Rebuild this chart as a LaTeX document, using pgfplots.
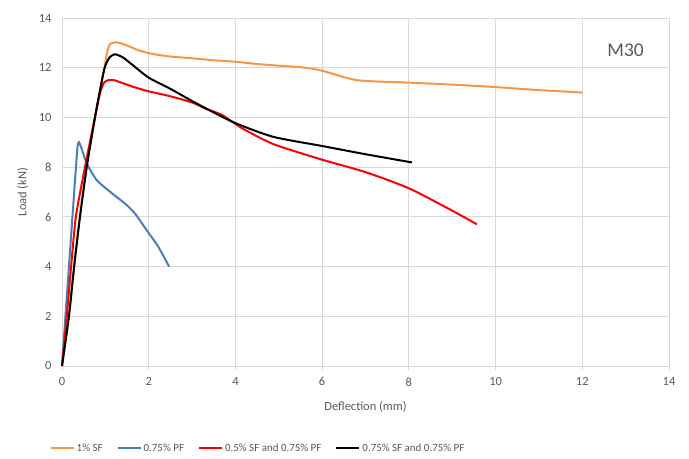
\documentclass[border=0pt]{standalone}
\usepackage{fontspec}
\setmainfont{Carlito}
\usepackage{pgfplots}
\pgfplotsset{compat=1.18}
\definecolor{sforange}{HTML}{F79646}
\definecolor{pfblue}{HTML}{4A7EBB}
\definecolor{txtgray}{HTML}{595959}
\definecolor{gridgray}{HTML}{D9D9D9}
\begin{document}
\begin{tikzpicture}
\begin{axis}[
  scale only axis, width=607bp, height=348bp,
  xmin=0, xmax=14, ymin=0, ymax=14,
  xtick={0,2,...,14}, ytick={0,2,...,14},
  grid=major, major grid style={draw=gridgray, line width=0.75bp},
  axis x line*=bottom, axis y line*=left,
  y axis line style={draw=none},
  x axis line style={draw=gridgray, line width=0.75bp, -},
  xtick pos=bottom, ytick pos=left,
  tick align=outside,
  x tick style={draw=gridgray, line width=0.75bp},
  y tick style={draw=none},
  major tick length=4bp,
  tick label style={font=\fontsize{12.5}{14}\selectfont, text=txtgray},
  xticklabel style={yshift=-4bp},
  yticklabel style={xshift=-3bp},
  /pgf/number format/assume math mode=true,
  xlabel={Deflection (mm)}, ylabel={Load (kN)},
  label style={font=\fontsize{12.5}{14}\selectfont, text=txtgray},
  xlabel style={yshift=-8bp},
  ylabel style={yshift=4bp},
  legend style={at={(0.323,-0.236)}, anchor=center, draw=none,
    font=\fontsize{11}{13}\selectfont, text=txtgray,
    /tikz/every even column/.append style={column sep=12bp}},
  legend columns=4,
  legend image code/.code={\draw[#1, line width=2bp] (0cm,0cm) -- (23bp,0cm);},
  every axis plot/.append style={line width=2bp, smooth, tension=0.4, mark=none},
  clip=false,
]
\addplot[sforange] coordinates {(0,0)(0.16,2)(0.28,4)(0.41,6)(0.57,8)(0.76,10)(0.9,11.3)(0.99,12.1)(1.05,12.7)(1.12,12.97)(1.25,13.02)(1.4,12.96)(1.6,12.82)(1.8,12.68)(2.1,12.55)(2.5,12.45)(3,12.38)(3.5,12.3)(4,12.24)(4.5,12.15)(5,12.08)(5.5,12.02)(5.9,11.92)(6.2,11.78)(6.5,11.62)(6.8,11.5)(7.2,11.45)(8,11.4)(9,11.32)(10,11.22)(11,11.1)(12,11.0)};
\addlegendentry{1\% SF}
\addplot[pfblue] coordinates {(0,0)(0.16,4)(0.33,8.2)(0.36,8.85)(0.39,9.0)(0.43,8.85)(0.5,8.5)(0.57,8.15)(0.8,7.48)(1.15,6.95)(1.45,6.54)(1.68,6.14)(1.95,5.47)(2.22,4.8)(2.47,4.0)};
\addlegendentry{0.75\% PF}
\addplot[red] coordinates {(0,0)(0.11,2)(0.21,4)(0.32,6)(0.53,8)(0.76,10)(0.88,11)(0.97,11.4)(1.07,11.5)(1.2,11.5)(1.4,11.38)(1.7,11.2)(2,11.05)(2.5,10.85)(3,10.6)(3.3,10.36)(3.69,10.1)(4.16,9.56)(4.87,8.93)(6,8.3)(7,7.8)(8,7.15)(9,6.25)(9.57,5.7)};
\addlegendentry{0.5\% SF and 0.75\% PF}
\addplot[black] coordinates {(0,0)(0.16,2)(0.28,4)(0.415,6)(0.57,8)(0.76,10)(0.9,11.3)(0.99,12.04)(1.1,12.42)(1.22,12.54)(1.4,12.42)(1.6,12.15)(2,11.6)(2.5,11.15)(3,10.66)(3.5,10.2)(4,9.77)(4.87,9.22)(6,8.85)(7,8.52)(8.07,8.19)};
\addlegendentry{0.75\% SF and 0.75\% PF}
\node[font=\fontsize{19.5}{22}\selectfont, text=txtgray] at (axis cs:13,12.7) {M30};
\coordinate (ll) at (rel axis cs:0,0);
\coordinate (ur) at (rel axis cs:1,1);
\end{axis}
\pgfresetboundingbox
\useasboundingbox ([shift={(-62bp,-93bp)}]ll) rectangle ([shift={(20bp,18bp)}]ur);
\end{tikzpicture}
\end{document}
